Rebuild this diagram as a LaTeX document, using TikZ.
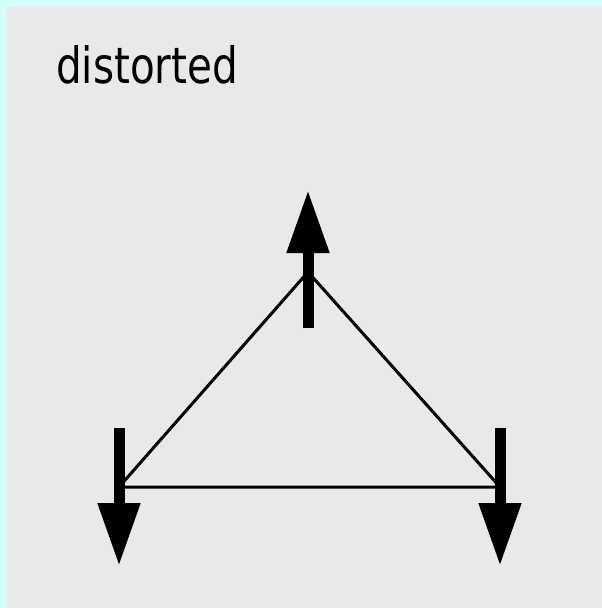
\documentclass[tikz,border=0pt]{standalone}
\usepackage{fontspec}
\newfontfamily\labelfont{DejaVu Sans}
\usetikzlibrary{arrows.meta}
\definecolor{framecyan}{HTML}{D2FEFE}
\definecolor{panelgray}{HTML}{E9E9E9}
\tikzset{
  edgeline/.style={line width=3pt, black, line cap=round, line join=round},
  forcearrow/.style={line width=11pt, black, -{Triangle[length=63pt, width=40pt]}},
}
\begin{document}
\begin{tikzpicture}[x=1pt, y=-1pt]
\useasboundingbox (0,0) rectangle (602,608);
\fill[framecyan] (0,0) rectangle (602,608);
\fill[panelgray] (5.5,7) rectangle (602,608);
\node[anchor=base west, inner sep=0pt, font=\labelfont\fontsize{50}{60}\selectfont] (title) at (56,83) {\scalebox{0.81}[1]{distorted}};
% triangle vertices
\coordinate (A) at (308,272);
\coordinate (B) at (119,487);
\coordinate (C) at (500,487);
% arrow ends
\coordinate (At) at (308,190);
\coordinate (Ab) at (308,328);
\coordinate (Bt) at (119,428);
\coordinate (Bb) at (119,566);
\coordinate (Ct) at (500,428);
\coordinate (Cb) at (500,566);
\draw[edgeline] (A) -- (B) -- (C) -- cycle;
\draw[forcearrow] (Ab) -- (At);
\draw[forcearrow] (Bt) -- (Bb);
\draw[forcearrow] (Ct) -- (Cb);
\end{tikzpicture}
\end{document}
